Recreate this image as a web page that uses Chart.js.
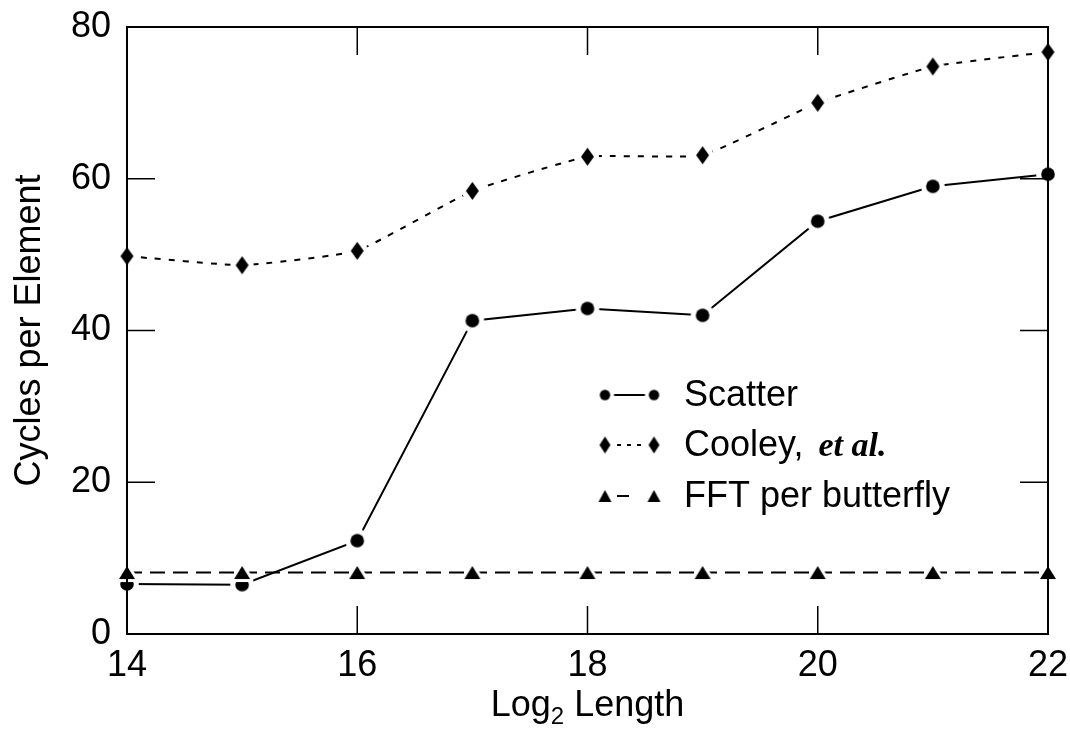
<!DOCTYPE html>
<html>
<head>
<meta charset="utf-8">
<script src="https://cdn.jsdelivr.net/npm/chart.js@4.4.1/dist/chart.umd.min.js"></script>
<style>
  html, body { margin: 0; padding: 0; background: #fff; }
  #wrap { width: 1070px; height: 739px; }
</style>
</head>
<body>
<div id="wrap"><canvas id="c" width="1070" height="739"></canvas></div>
<script>
// ---- data ----
const xValues = [14, 15, 16, 17, 18, 19, 20, 21, 22];
const scatterValues = [6.6, 6.5, 12.3, 41.3, 42.9, 42.0, 54.4, 59.0, 60.6];
const cooleyValues = [49.8, 48.6, 50.5, 58.4, 62.9, 63.1, 70.0, 74.8, 76.7];
const fftValues = [8.1, 8.1, 8.1, 8.1, 8.1, 8.1, 8.1, 8.1, 8.1];
const xTickValues = [14, 16, 18, 20, 22];
const yTickValues = [0, 20, 40, 60, 80];
const seriesNames = ['Scatter', 'Cooley, ', 'FFT per butterfly'];

const SANS = '"Liberation Sans", Arial, sans-serif';
const SERIF = '"Liberation Serif", "Times New Roman", serif';

// ---- marker images (black shape with white halo to create line gaps) ----
function makeMarker(shape, a, b, halo) {
  const w = Math.ceil(2 * (a + halo) + 2);
  const h = Math.ceil(2 * (b + halo) + 2);
  const cv = document.createElement('canvas');
  cv.width = w; cv.height = h;
  const g = cv.getContext('2d');
  const cx = w / 2, cy = h / 2;
  g.beginPath();
  if (shape === 'circle') {
    g.arc(cx, cy, a, 0, Math.PI * 2);
  } else if (shape === 'diamond') {
    g.moveTo(cx, cy - b); g.lineTo(cx + a, cy); g.lineTo(cx, cy + b); g.lineTo(cx - a, cy);
  } else {
    g.moveTo(cx, cy - b); g.lineTo(cx + a, cy + b); g.lineTo(cx - a, cy + b);
  }
  g.closePath();
  if (halo > 0) {
    g.lineJoin = 'round';
    g.strokeStyle = '#fff';
    g.lineWidth = halo * 2;
    g.stroke();
  }
  g.fillStyle = '#000';
  g.fill();
  return cv;
}
const circleMk = makeMarker('circle', 6.8, 6.8, 5);
const diamondMk = makeMarker('diamond', 6.5, 9, 5);
const triMk = makeMarker('triangle', 8, 6.5, 3);
const legendMk = [
  makeMarker('circle', 5.2, 5.2, 4),
  makeMarker('diamond', 5.5, 8.5, 4),
  makeMarker('triangle', 6.5, 6, 3)
];

const toPts = (vals) => vals.map((v, i) => ({ x: xValues[i], y: v }));

// ---- frame, inward ticks, axis titles, legend ----
const framePlugin = {
  id: 'frame',
  afterDatasetsDraw(chart) {
    const { ctx, chartArea: { left, right, top, bottom }, scales: { x, y } } = chart;
    ctx.save();
    ctx.strokeStyle = '#000';
    ctx.lineWidth = 2;
    ctx.strokeRect(left, top, right - left, bottom - top);
    ctx.lineWidth = 1.5;
    const TL = 28;
    x.ticks.forEach(t => {
      const px = x.getPixelForValue(t.value);
      if (px <= left + 1 || px >= right - 1) return;
      ctx.beginPath();
      ctx.moveTo(px, bottom); ctx.lineTo(px, bottom - TL);
      ctx.moveTo(px, top); ctx.lineTo(px, top + TL);
      ctx.stroke();
    });
    y.ticks.forEach(t => {
      const py = y.getPixelForValue(t.value);
      if (py <= top + 1 || py >= bottom - 1) return;
      ctx.beginPath();
      ctx.moveTo(left, py); ctx.lineTo(left + TL, py);
      ctx.moveTo(right, py); ctx.lineTo(right - TL, py);
      ctx.stroke();
    });
    ctx.restore();
  },
  afterDraw(chart) {
    const { ctx, chartArea: { left, right, top, bottom } } = chart;
    ctx.save();
    ctx.fillStyle = '#000';
    // y title
    ctx.save();
    ctx.translate(40, (top + bottom) / 2);
    ctx.rotate(-Math.PI / 2);
    ctx.font = '36px ' + SANS;
    ctx.textAlign = 'center';
    ctx.textBaseline = 'alphabetic';
    ctx.fillText('Cycles per Element', 0, 0);
    ctx.restore();
    // x title with subscript
    ctx.textBaseline = 'alphabetic';
    const p1 = 'Log', p3 = ' Length';
    ctx.font = '36px ' + SANS; const w1 = ctx.measureText(p1).width, w3 = ctx.measureText(p3).width;
    ctx.font = '24px ' + SANS; const w2 = ctx.measureText('2').width;
    const total = w1 + w2 + w3;
    let xs = (left + right) / 2 - total / 2;
    const base = 716;
    ctx.textAlign = 'left';
    ctx.font = '36px ' + SANS; ctx.fillText(p1, xs, base); xs += w1;
    ctx.font = '24px ' + SANS; ctx.fillText('2', xs, base + 8); xs += w2;
    ctx.font = '36px ' + SANS; ctx.fillText(p3, xs, base);

    // legend
    const rows = [395, 445, 496];
    const mx1 = 605, mx2 = 654, tx = 684;
    [0, 1, 2].forEach((di, r) => {
      const ds = chart.data.datasets[di];
      const yy = rows[r];
      ctx.save();
      ctx.strokeStyle = '#000';
      ctx.lineWidth = 2;
      ctx.setLineDash(ds.legendDash);
      ctx.lineDashOffset = ds.legendDashOffset || 0;
      ctx.beginPath();
      ctx.moveTo(mx1, yy); ctx.lineTo(mx2, yy);
      ctx.stroke();
      ctx.restore();
      const mk = legendMk[r];
      ctx.drawImage(mk, mx1 - mk.width / 2, yy - mk.height / 2);
      ctx.drawImage(mk, mx2 - mk.width / 2, yy - mk.height / 2);
      ctx.font = '36px ' + SANS;
      ctx.textAlign = 'left';
      ctx.textBaseline = 'alphabetic';
      ctx.fillText(seriesNames[r], tx, yy + 11);
      if (r === 1) {
        const w = ctx.measureText(seriesNames[r]).width;
        ctx.font = 'italic bold 34px ' + SERIF;
        ctx.fillText('et al.', tx + w + 5, yy + 11);
      }
    });
    ctx.restore();
  }
};

new Chart(document.getElementById('c'), {
  type: 'line',
  data: {
    datasets: [
      {
        label: 'Scatter',
        data: toPts(scatterValues),
        borderColor: '#000', borderWidth: 2, tension: 0,
        pointStyle: circleMk, pointRadius: 7, clip: false, order: 1,
        legendDash: []
      },
      {
        label: 'Cooley, et al.',
        data: toPts(cooleyValues),
        borderColor: '#000', borderWidth: 2, tension: 0.12, borderDash: [6, 8],
        pointStyle: diamondMk, pointRadius: 7, clip: false, order: 2,
        legendDash: [4, 6], legendDashOffset: -2
      },
      {
        label: 'FFT per butterfly',
        data: toPts(fftValues),
        borderColor: '#000', borderWidth: 2, tension: 0, borderDash: [15, 8],
        pointStyle: triMk, pointRadius: 7, clip: false, order: 0,
        legendDash: [12, 30], legendDashOffset: -12
      }
    ]
  },
  options: {
    responsive: false,
    animation: false,
    devicePixelRatio: 1,
    layout: { padding: { top: 27, right: 22, left: 0, bottom: 0 } },
    plugins: { legend: { display: false }, tooltip: { enabled: false } },
    scales: {
      x: {
        type: 'linear', min: 14, max: 22,
        grid: { display: false, drawTicks: false },
        border: { display: false },
        afterBuildTicks: (s) => { s.ticks = xTickValues.map(v => ({ value: v })); },
        afterFit: (s) => { s.height = 105; s.paddingLeft = 0; s.paddingRight = 0; },
        ticks: { color: '#000', font: { family: SANS, size: 36 }, padding: 10, maxRotation: 0, autoSkip: false }
      },
      y: {
        type: 'linear', min: 0, max: 80,
        grid: { display: false, drawTicks: false },
        border: { display: false },
        afterBuildTicks: (s) => { s.ticks = yTickValues.map(v => ({ value: v })); },
        afterFit: (s) => { s.width = 127; s.paddingTop = 0; s.paddingBottom = 0; },
        ticks: { color: '#000', font: { family: SANS, size: 36 }, padding: 16 }
      }
    }
  },
  plugins: [framePlugin]
});
</script>
</body>
</html>
